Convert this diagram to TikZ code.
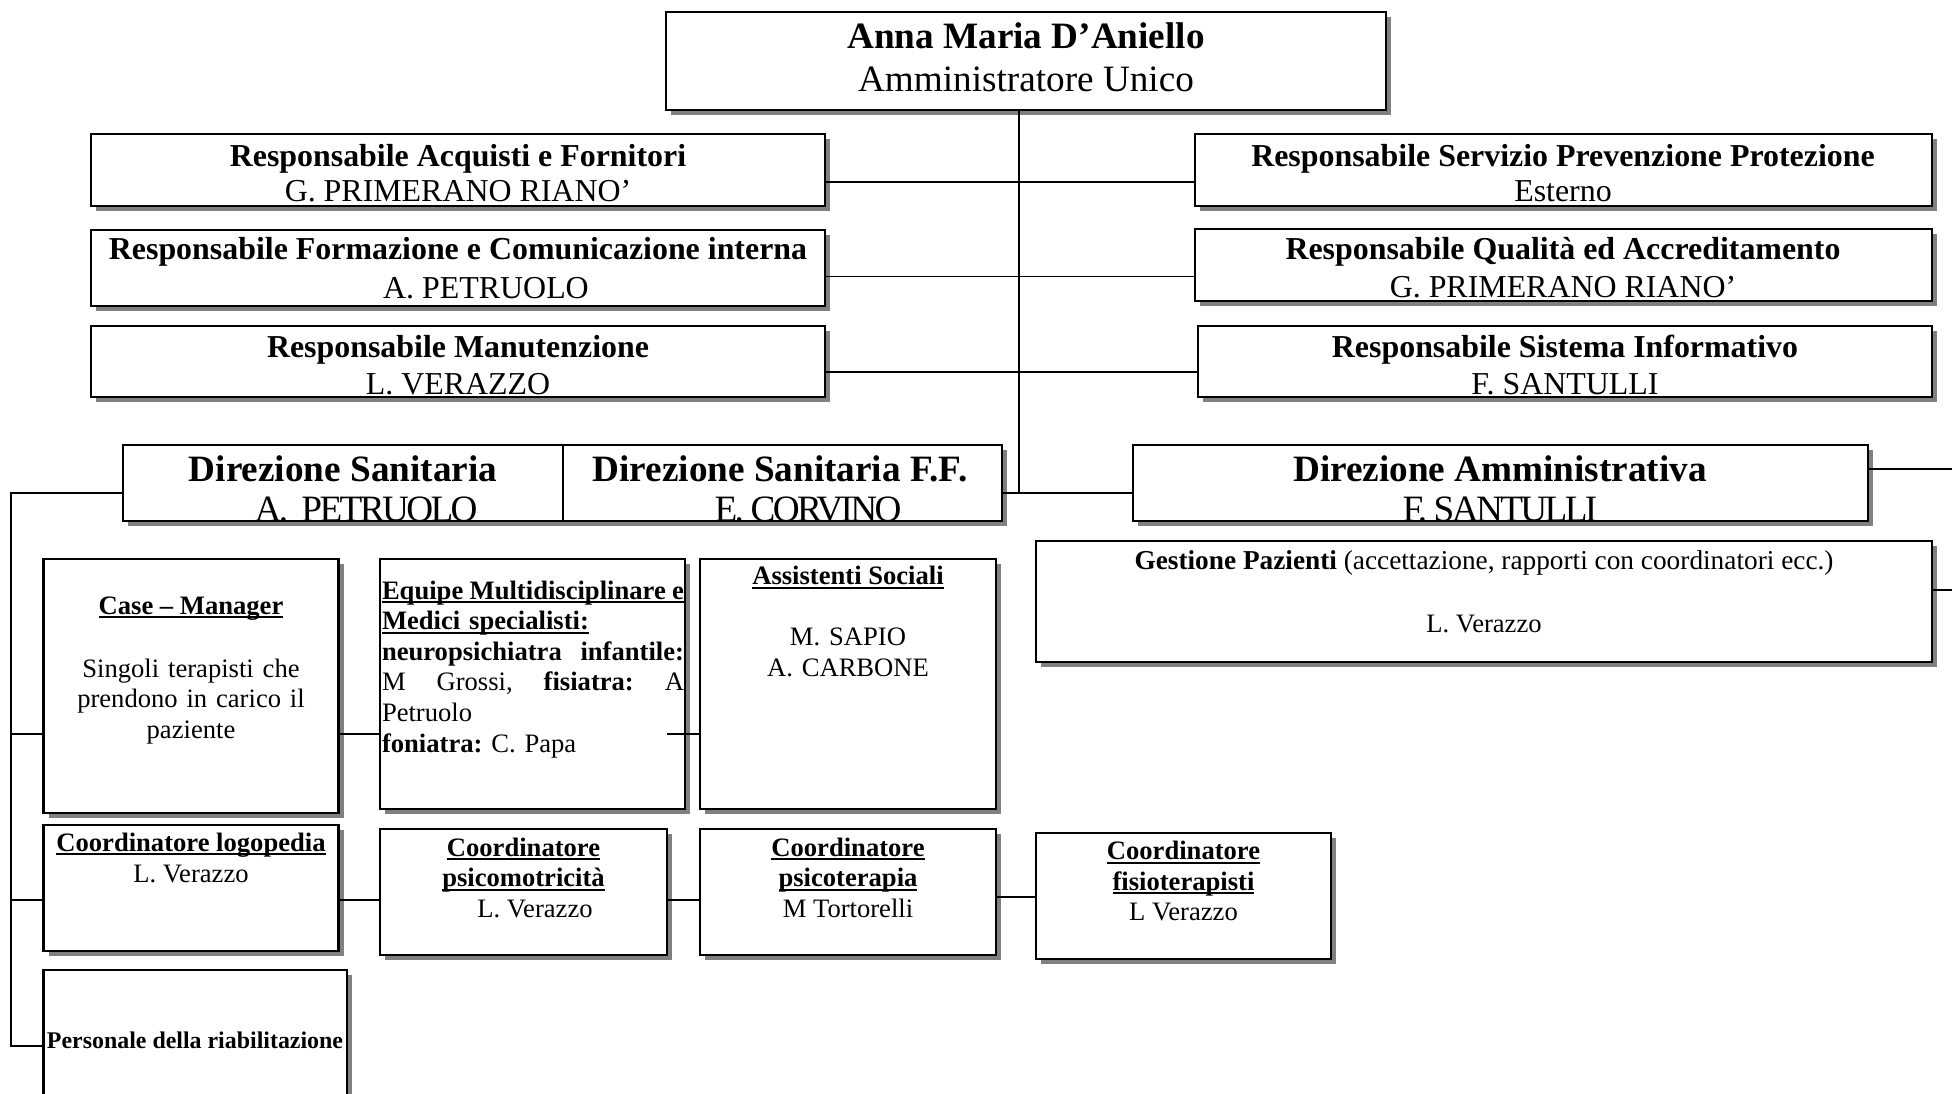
\documentclass[tikz,border=0pt]{standalone}
\usepackage{fontspec}
\setmainfont{Liberation Serif}
\usetikzlibrary{shadows,fit,calc}
\frenchspacing
\newsavebox\ulb
\newcommand\ulx[1]{\sbox\ulb{#1}\leavevmode\rlap{\rule[-4.2pt]{\wd\ulb}{2.2pt}}\usebox\ulb}
\newcommand\jline[1]{\leavevmode\hbox to 302pt{#1}}
\tikzset{
  box/.style={draw=black, line width=2.6pt, fill=white, inner sep=0pt, outer sep=0pt,
    drop shadow={shadow xshift=5pt, shadow yshift=-5pt, fill=black!50, opacity=1}},
  conn/.style={line width=1.6pt, draw=black},
  txt/.style={inner sep=0pt, outer sep=0pt, anchor=base},
  Fxivb/.style={font=\fontsize{37.2}{42.8}\selectfont\bfseries},
  Fxiv/.style={font=\fontsize{37.2}{42.8}\selectfont},
  Fxivc/.style={font=\fontsize{37.2}{42.8}\selectfont\addfontfeature{LetterSpace=-7}},
  Fxiib/.style={font=\fontsize{31.9}{36.7}\selectfont\bfseries},
  Fxii/.style={font=\fontsize{31.9}{36.7}\selectfont},
  Fxb/.style={font=\fontsize{26.6}{30.6}\selectfont\bfseries},
  Fx/.style={font=\fontsize{26.6}{30.6}\selectfont},
  Fixb/.style={font=\fontsize{23.9}{27.5}\selectfont\bfseries},
}
\begin{document}
\begin{tikzpicture}[x=1pt,y=-1pt]
\useasboundingbox (0,0) rectangle (1952,1093);
\fill[white] (0,0) rectangle (1952,1093);
\clip (0,0) rectangle (1952,1093);

% boxes
\node[box, fit={(666,12) (1386,110)}] (top) {};
\node[box, fit={(91,134) (825,206)}] (respL1) {};
\node[box, fit={(91,230) (825,306)}] (respL2) {};
\node[box, fit={(91,326) (825,397)}] (respL3) {};
\node[box, fit={(1195,134) (1932,206)}] (respR1) {};
\node[box, fit={(1195,229) (1932,301)}] (respR2) {};
\node[box, fit={(1198,326) (1932,397)}] (respR3) {};
\node[box, fit={(123,445) (563,521)}] (dirSan) {};
\node[box, fit={(563,445) (1002,521)}] (dirFF) {};
\node[box, fit={(1133,445) (1868,521)}] (dirAmm) {};
\node[box, fit={(1036,541) (1932,662)}] (gest) {};
\node[box, fit={(43.6,559) (338.6,813)}] (case) {};
\node[box, fit={(380,559) (685,809)}] (equipe) {};
\node[box, fit={(700,559) (996,809)}] (assist) {};
\node[box, fit={(43.6,825) (338.6,951)}] (logo) {};
\node[box, fit={(380,829) (667,955)}] (psicomot) {};
\node[box, fit={(700,829) (996,955)}] (psicoter) {};
\node[box, fit={(1036,833) (1331,959)}] (fisio) {};
\node[box, fit={(43.6,970) (347,1120)}] (pers) {};

% connectors
\coordinate (t1) at (1019,182);
\coordinate (t2) at (1019,276.5);
\coordinate (t3) at (1019,372);
\coordinate (t4) at (1019,493);
\draw[conn] (top.south -| t4) -- (t4);
\draw[conn] (respL1.east |- t1) -- (respR1.west |- t1);
\draw[conn] (respL2.east |- t2) -- (respR2.west |- t2);
\draw[conn] (respL3.east |- t3) -- (respR3.west |- t3);
\draw[conn] (dirFF.east |- t4) -- (dirAmm.west |- t4);
\coordinate (e1) at (1952,469);
\coordinate (e2) at (1952,590);
\draw[conn] (dirAmm.east |- e1) -- (e1);
\draw[conn] (gest.east |- e2) -- (e2);
\coordinate (b0) at (11,493);
\coordinate (b1) at (11,734);
\coordinate (b2) at (11,900);
\coordinate (b3) at (11,1046);
\draw[conn] (dirSan.west |- b0) -- (b0) -- (b3) -- (pers.west |- b3);
\draw[conn] (b1) -- (case.west |- b1);
\draw[conn] (case.east |- b1) -- (equipe.west |- b1);
\coordinate (eqIn) at (667,734);
\draw[conn] (eqIn) -- (assist.west |- b1);
\draw[conn] (b2) -- (logo.west |- b2);
\draw[conn] (logo.east |- b2) -- (psicomot.west |- b2);
\draw[conn] (psicomot.east |- b2) -- (psicoter.west |- b2);
\coordinate (r2) at (0,897);
\draw[conn] (psicoter.east |- r2) -- (fisio.west |- r2);

% texts
\node[txt, Fxivb] (topA) at (1026,48) {Anna Maria D’Aniello};
\node[txt, Fxiv] (topB) at (1026,91.5) {Amministratore Unico};

\node[txt, Fxiib] (l1a) at (458,166) {Responsabile Acquisti e Fornitori};
\node[txt, Fxii] (l1b) at (458,201.5) {G. PRIMERANO RIANO’};
\node[txt, Fxiib] (l2a) at (458,259) {Responsabile Formazione e Comunicazione interna};
\node[txt, Fxii] (l2b) at (486,298) {A. PETRUOLO};
\node[txt, Fxiib] (l3a) at (458,357) {Responsabile Manutenzione};
\node[txt, Fxii] (l3b) at (458,394.5) {L. VERAZZO};

\node[txt, Fxiib] (r1a) at (1563,166) {Responsabile Servizio Prevenzione Protezione};
\node[txt, Fxii] (r1b) at (1563,201.5) {Esterno};
\node[txt, Fxiib] (r2a) at (1563,259) {Responsabile Qualità ed Accreditamento};
\node[txt, Fxii] (r2b) at (1563,297) {G. PRIMERANO RIANO’};
\node[txt, Fxiib] (r3a) at (1565,357) {Responsabile Sistema Informativo};
\node[txt, Fxii] (r3b) at (1565,394) {F. SANTULLI};

\node[txt, Fxivb] (dsa) at (343,481) {Direzione Sanitaria};
\node[txt, Fxivc] (dsb) at (366,521) {A.\ \ PETRUOLO};
\node[txt, Fxivb] (dfa) at (780,481) {Direzione Sanitaria F.F.};
\node[txt, Fxivc] (dfb) at (808,521) {E. CORVINO};
\node[txt, Fxivb] (daa) at (1500,481) {Direzione Amministrativa};
\node[txt, Fxivc] (dab) at (1500,521) {F. SANTULLI};

\node[txt, font=\fontsize{27.3}{31.4}\selectfont] (ga) at (1484,569.5) {\textbf{Gestione Pazienti} (accettazione, rapporti con coordinatori ecc.)};
\node[txt, Fx] (gb) at (1484,632) {L. Verazzo};

\node[txt, Fxb] (ca) at (191,614) {\ulx{Case – Manager}};
\node[txt, Fx, text width=280pt, align=center] (cb) at (191,677) {Singoli terapisti che\\prendono in carico il\\paziente};

\node[txt, Fx, anchor=base west, text width=302pt, align=left] (eq) at (382,599) {%
\ulx{\jline{\bfseries Equipe\hfill Multidisciplinare\hfill e}}\\
\ulx{\textbf{Medici specialisti:}}\\
\jline{\bfseries neuropsichiatra\hfill infantile:}\\
\jline{M\hfill Grossi,\hfill \textbf{fisiatra:}\hfill A}\\
Petruolo\\
\textbf{foniatra:} C. Papa};

\node[txt, Fxb] (aa) at (848,584.5) {\ulx{Assistenti Sociali}};
\node[txt, Fx, text width=280pt, align=center] (ab) at (848,645.5) {M. SAPIO\\A. CARBONE};

\node[txt, Fxb] (la) at (191,851) {\ulx{Coordinatore logopedia}};
\node[txt, Fx] (lb) at (191,882) {L. Verazzo};

\node[txt, Fxb, text width=270pt, align=center] (pma) at (523.5,856) {\ulx{Coordinatore}\\\ulx{psicomotricità}};
\node[txt, Fx] (pmb) at (535,917) {L. Verazzo};

\node[txt, Fxb, text width=280pt, align=center] (pta) at (848,856) {\ulx{Coordinatore}\\\ulx{psicoterapia}};
\node[txt, Fx] (ptb) at (848,917) {M Tortorelli};

\node[txt, Fxb, text width=280pt, align=center] (fa) at (1183.5,859.6) {\ulx{Coordinatore}\\\ulx{fisioterapisti}};
\node[txt, Fx] (fb) at (1183.5,920.6) {L Verazzo};

\node[txt, Fixb] (pa) at (195,1048) {Personale della riabilitazione};
\end{tikzpicture}
\end{document}
